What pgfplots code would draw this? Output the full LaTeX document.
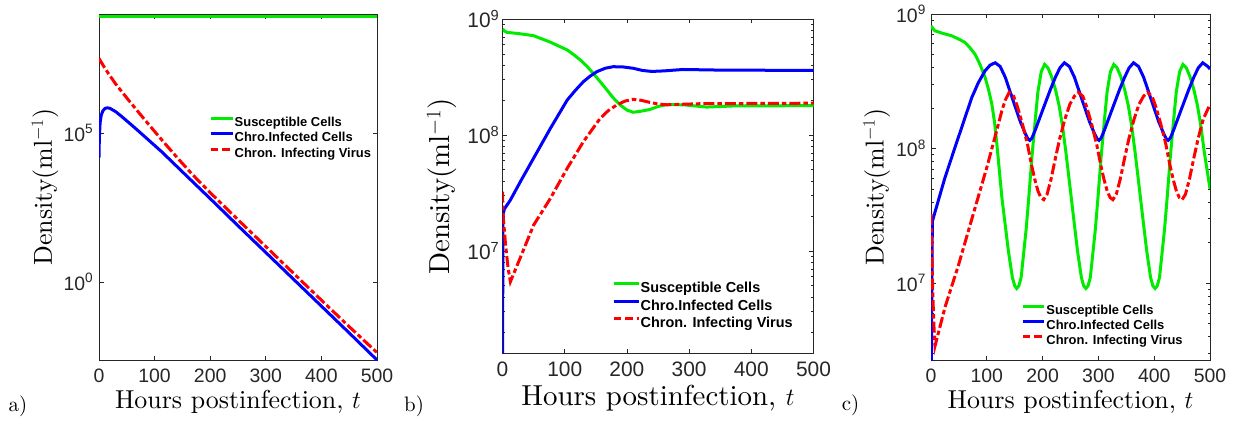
\documentclass[border=0pt]{standalone}
\usepackage{fontspec}
\usepackage{pgfplots}
\pgfplotsset{compat=1.18}
\newfontfamily\hv{Liberation Sans}
\newfontfamily\cmr{lmroman10-regular.otf}
\newcommand\legfont[1]{\fontsize{#1}{#1}\selectfont\hv\bfseries}
\newcommand\labfont[1]{\fontsize{#1}{#1}\selectfont\cmr}
\definecolor{mgreen}{RGB}{0,235,0}
\definecolor{mblue}{RGB}{0,0,255}
\definecolor{mred}{RGB}{255,0,0}
\definecolor{axgray}{RGB}{38,38,38}

\pgfplotsset{
  panel/.style={
    scale only axis, xmin=0, xmax=500, ymax=1e9,
    xtick={0,100,200,300,400,500},
    axis line style={axgray, line width=0.8bp},
    tick style={axgray, line width=0.8bp},
    tick align=inside, major tick length=4.5bp, minor tick length=2.5bp,
    /pgf/number format/assume math mode=true,
    ticklabel style={text=axgray},
    xticklabel style={anchor=center, yshift=-16bp},
    yticklabel style={anchor=east, inner sep=0pt},
    xlabel={Hours postinfection, $t$}, ylabel={Density(ml$^{-1}$)},
    legend cell align=left,
    legend style={draw=none, fill=none, inner sep=0pt, anchor=north west},
  },
  sus/.style={color=mgreen, line width=3bp},
  inf/.style={color=mblue, line width=3bp},
  vir/.style={color=mred, line width=3bp, dash pattern=on 11bp off 3bp on 4.5bp off 3bp,
    legend image post style={dash pattern=on 7.5bp off 4bp}},
}

\begin{document}
\begin{tikzpicture}[x=1bp,y=1bp]
\path[use as bounding box] (0,0) rectangle (1242,-431);

% ---------------- a) ----------------
\begin{axis}[ymode=log, panel, at={(99bp,-360bp)}, width=278bp, height=346bp, ymin=0.0024,
  ytick={1,1e5}, yticklabels={10\textsuperscript{0},10\textsuperscript{5}}, yminorticks=false,
  ticklabel style={font=\hv\fontsize{19.5}{20}\selectfont},
  yticklabel style={xshift=-5.5bp},
  xlabel style={at={(axis description cs:0.5,-0.1205)}, anchor=center, font=\labfont{26}},
  ylabel style={at={(axis description cs:-0.1942,0.5)}, anchor=center, font=\labfont{26}},
  legend style={at={(axis description cs:0.3957,0.705)}, font=\legfont{13}, row sep=1.3bp,
    nodes={font=\legfont{13}, inner sep=0.5bp, text height=9.75bp, text depth=3.25bp}},
  legend image code/.code={\path (0bp,0bp); \draw[#1] (0bp,4.7bp) -- (22bp,4.7bp);},
]
\addplot[sus] coordinates {(0,8.2e8) (500,8.2e8)};
\addlegendentry{Susceptible Cells}
\addplot[inf] coordinates {(0,1.51e4) (0.5,5.01e4) (1,1e5) (2,2.24e5) (4,3.98e5) (7,5.62e5) (11,6.76e5) (15,7.08e5) (20,6.76e5) (30,5.25e5) (40,3.72e5) (60,1.78e5) (80,8.32e4) (113,2.34e4) (150,5.01e3) (200,631) (250,77.6) (300,9.77) (350,1.23) (400,0.155) (450,0.0195) (500,0.0024)};
\addlegendentry{Chro.Infected Cells}
\addplot[vir] coordinates {(0,3.24e7) (5,2.24e7) (10,1.585e7) (17,1.0e7) (30,4.47e6) (53,1.29e6) (80,3.16e5) (113,5.89e4) (140,1.55e4) (167,4.27e3) (200,1.0e3) (250,123) (300,15.5) (350,1.95) (400,0.245) (450,0.0316) (500,0.00427)};
\addlegendentry{Chron. Infecting Virus}
\end{axis}

% ---------------- b) ----------------
\begin{axis}[ymode=log, panel, at={(502.5bp,-353.3bp)}, width=311bp, height=334.3bp, ymin=1.31e6,
  ytick={1e7,1e8,1e9}, yticklabels={10\textsuperscript{7},10\textsuperscript{8},10\textsuperscript{9}},
  minor ytick={2e6,3e6,4e6,5e6,6e6,7e6,8e6,9e6,2e7,3e7,4e7,5e7,6e7,7e7,8e7,9e7,2e8,3e8,4e8,5e8,6e8,7e8,8e8,9e8},
  ticklabel style={font=\hv\fontsize{21}{22}\selectfont},
  yticklabel style={xshift=-3bp},
  xlabel style={at={(axis description cs:0.5,-0.1346)}, anchor=center, font=\labfont{29}},
  ylabel style={at={(axis description cs:-0.1955,0.5)}, anchor=center, font=\labfont{29}},
  legend style={at={(axis description cs:0.352,0.216)}, font=\legfont{14.5}, row sep=2bp,
    nodes={font=\legfont{14.5}, inner sep=0.5bp, text height=10.9bp, text depth=3.6bp}},
  legend image code/.code={\path (0bp,0bp); \draw[#1] (0bp,5.2bp) -- (25bp,5.2bp);},
]
\addplot[sus] coordinates {(0,8.2e8) (3,7.9e8) (7,7.67e8) (25,7.5e8) (50,7.18e8) (77,6.31e8) (104,5.41e8) (115,4.9e8) (125,4.44e8) (136,3.9e8) (146,3.39e8) (157,2.88e8) (168,2.44e8) (178,2.09e8) (189,1.82e8) (200,1.64e8) (210,1.57e8) (222,1.6e8) (237,1.66e8) (250,1.76e8) (264,1.83e8) (291,1.82e8) (328,1.74e8) (372,1.78e8) (500,1.79e8)};
\addlegendentry{Susceptible Cells}
\addplot[inf] coordinates {(0,1.0e6) (0.8,2.04e7) (3,2.3e7) (12.7,2.75e7) (30,4.07e7) (50,6.31e7) (77,1.14e8) (104,2.0e8) (117,2.42e8) (130,2.88e8) (141,3.22e8) (152,3.52e8) (165,3.76e8) (178,3.88e8) (194,3.86e8) (210,3.76e8) (225,3.6e8) (240,3.53e8) (260,3.57e8) (290,3.67e8) (344,3.63e8) (500,3.6e8)};
\addlegendentry{Chro.Infected Cells}
\addplot[vir] coordinates {(0,3.24e7) (1,2.0e7) (5,1.12e7) (9,7.08e6) (12.7,5.43e6) (20,6.76e6) (30,9.12e6) (50,1.67e7) (77,2.84e7) (104,5.16e7) (130,8.75e7) (157,1.39e8) (170,1.62e8) (184,1.82e8) (197,1.96e8) (210,2.03e8) (223,1.99e8) (237,1.91e8) (250,1.85e8) (264,1.82e8) (290,1.84e8) (317,1.86e8) (500,1.88e8)};
\addlegendentry{Chron. Infecting Virus}
\end{axis}

% ---------------- c) ----------------
\begin{axis}[ymode=log, panel, at={(931bp,-360bp)}, width=279bp, height=346bp, ymin=2.68e6,
  ytick={1e7,1e8,1e9}, yticklabels={10\textsuperscript{7},10\textsuperscript{8},10\textsuperscript{9}},
  minor ytick={3e6,4e6,5e6,6e6,7e6,8e6,9e6,2e7,3e7,4e7,5e7,6e7,7e7,8e7,9e7,2e8,3e8,4e8,5e8,6e8,7e8,8e8,9e8},
  ticklabel style={font=\hv\fontsize{19.5}{20}\selectfont},
  yticklabel style={xshift=-5bp},
  xlabel style={at={(axis description cs:0.5,-0.1205)}, anchor=center, font=\labfont{26}},
  ylabel style={at={(axis description cs:-0.1946,0.5)}, anchor=center, font=\labfont{26}},
  legend style={at={(axis description cs:0.3226,0.1627)}, font=\legfont{13}, row sep=1.3bp,
    nodes={font=\legfont{13}, inner sep=0.5bp, text height=9.75bp, text depth=3.25bp}},
  legend image code/.code={\path (0bp,0bp); \draw[#1] (0bp,4.7bp) -- (21.7bp,4.7bp);},
]
\addplot[sus] coordinates {(0,8.17e8) (3,7.8e8) (7,7.5e8) (20,7.2e8) (37,6.89e8) (50,6.5e8) (61,6.14e8) (70,5.6e8) (79,5.01e8) (88,4.2e8) (97,3.37e8) (103,2.75e8) (109,2.14e8) (114,1.55e8) (118,1.08e8) (122,7.2e7) (127,4.32e7) (133,2.7e7) (138.6,1.74e7) (145.8,1.10e7) (150,9.55e6) (153.5,9.12e6)
 (157.5,9.55e6) (161.5,1.10e7) (170.5,2.51e7) (175.5,4.47e7) (180.5,8.32e7) (186.5,1.58e8) (191.5,2.63e8) (197.5,3.72e8) (203.5,4.22e8) (209.5,3.98e8) (216.5,3.39e8) (223.5,2.69e8) (229.5,2.09e8) (235.5,1.48e8) (241.5,9.55e7) (249.5,5.01e7) (256.5,2.82e7) (262.5,1.74e7) (269.5,1.10e7) (273.5,9.55e6) (277.5,9.12e6)
 (281.5,9.55e6) (285.5,1.10e7) (294.5,2.51e7) (299.5,4.47e7) (304.5,8.32e7) (310.5,1.58e8) (315.5,2.63e8) (321.5,3.72e8) (327.5,4.22e8) (333.5,3.98e8) (340.5,3.39e8) (347.5,2.69e8) (353.5,2.09e8) (359.5,1.48e8) (365.5,9.55e7) (373.5,5.01e7) (380.5,2.82e7) (386.5,1.74e7) (393.5,1.10e7) (397.5,9.55e6) (401.5,9.12e6)
 (405.5,9.55e6) (409.5,1.10e7) (418.5,2.51e7) (423.5,4.47e7) (428.5,8.32e7) (434.5,1.58e8) (439.5,2.63e8) (445.5,3.72e8) (451.5,4.22e8) (457.5,3.98e8) (464.5,3.39e8) (471.5,2.69e8) (477.5,2.09e8) (483.5,1.48e8) (489.5,9.55e7) (500,5.0e7)};
\addlegendentry{Susceptible Cells}
\addplot[inf] coordinates {(0,1.0e6) (2.4,2.88e7) (25,6.08e7) (49,1.21e8) (73,2.39e8) (85,3.1e8) (97,3.79e8) (106,4.17e8) (115,4.34e8) (124,4.07e8) (133,3.39e8) (142,2.63e8) (151,2.04e8) (160,1.585e8) (169,1.29e8) (174,1.175e8) (177,1.15e8) (181,1.20e8) (187,1.38e8) (196,1.74e8) (205,2.19e8) (214,2.75e8) (223,3.39e8) (231,3.98e8) (239,4.34e8)
 (248,4.07e8) (257,3.39e8) (266,2.63e8) (275,2.04e8) (284,1.585e8) (293,1.29e8) (298,1.175e8) (301,1.15e8) (305,1.20e8) (311,1.38e8) (320,1.74e8) (329,2.19e8) (338,2.75e8) (347,3.39e8) (355,3.98e8) (363,4.34e8)
 (372,4.07e8) (381,3.39e8) (390,2.63e8) (399,2.04e8) (408,1.585e8) (417,1.29e8) (422,1.175e8) (425,1.15e8) (429,1.20e8) (435,1.38e8) (444,1.74e8) (453,2.19e8) (462,2.75e8) (471,3.39e8) (479,3.98e8) (487,4.34e8) (496,4.07e8) (500,3.9e8)};
\addlegendentry{Chro.Infected Cells}
\addplot[vir] coordinates {(0,3.25e7) (1,2.0e7) (3,8.9e6) (5,5.0e6) (7.2,3.41e6) (25,6.6e6) (49,1.35e7) (79,3.63e7) (100,7.24e7) (113,1.15e8) (120,1.48e8) (127,1.91e8) (133,2.29e8) (140,2.61e8)
 (148,2.45e8) (155,2.04e8) (164,1.51e8) (173,1.07e8) (180,7.59e7) (186,5.89e7) (192,4.79e7) (197,4.32e7) (202,4.17e7) (208,4.57e7) (215,5.89e7) (223,8.51e7) (231,1.20e8) (240,1.66e8) (249,2.14e8) (257,2.45e8) (264,2.61e8)
 (272,2.45e8) (279,2.04e8) (288,1.51e8) (297,1.07e8) (304,7.59e7) (310,5.89e7) (316,4.79e7) (321,4.32e7) (326,4.17e7) (332,4.57e7) (339,5.89e7) (347,8.51e7) (355,1.20e8) (364,1.66e8) (373,2.14e8) (381,2.45e8) (388,2.61e8)
 (396,2.45e8) (403,2.04e8) (412,1.51e8) (421,1.07e8) (428,7.59e7) (434,5.89e7) (440,4.79e7) (445,4.32e7) (450,4.17e7) (456,4.57e7) (463,5.89e7) (471,8.51e7) (479,1.20e8) (488,1.66e8) (497,2.0e8) (500,2.14e8)};
\addlegendentry{Chron. Infecting Virus}
\end{axis}

\node[font=\labfont{21}] at (18,-406) {a)};
\node[font=\labfont{21}] at (414,-406.7) {b)};
\node[font=\labfont{21}] at (850.5,-405) {c)};
\end{tikzpicture}
\end{document}
